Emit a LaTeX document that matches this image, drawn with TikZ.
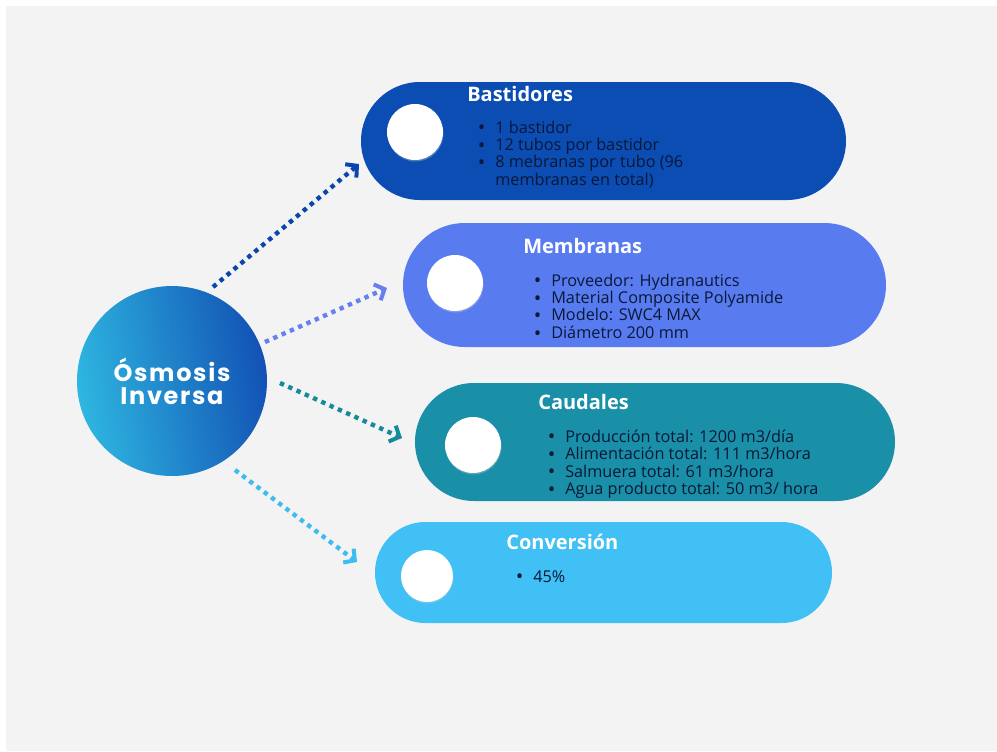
\documentclass[tikz,border=0pt]{standalone}
\usepackage{fontspec}
\setmainfont{Open Sans}
\newfontfamily\osmfont[LetterSpace=7]{Poppins}
\usetikzlibrary{arrows.meta}
\definecolor{bgpanel}{HTML}{F3F3F3}
\definecolor{cBast}{HTML}{0B4DB3}
\definecolor{cMemb}{HTML}{587CF0}
\definecolor{cCaud}{HTML}{1A8FA8}
\definecolor{cConv}{HTML}{40C0F5}
\definecolor{aBast}{HTML}{0A45AD}
\definecolor{aMemb}{HTML}{6680F0}
\definecolor{aCaud}{HTML}{17899C}
\definecolor{aConv}{HTML}{3FBCEF}
\definecolor{bodytxt}{HTML}{0A1838}
\definecolor{osmL}{HTML}{2EB6E0}
\definecolor{osmR}{HTML}{1252B5}
\newcommand\mybul{\makebox[13.5pt][l]{\hspace{0.5pt}\raisebox{-1.2pt}{\fontsize{15}{0}\selectfont\textbullet}}}
\newcommand\bitem[1]{\mybul#1}
\begin{document}
\begin{tikzpicture}[x=0.75pt,y=-0.75pt,
  pill/.style={rectangle, draw=none, inner sep=0pt},
  dotcircle/.style={circle, fill=white, draw=none, inner sep=0pt, minimum size=42pt},
  shadowc/.style={circle, fill=black!20, opacity=0.35, draw=none, inner sep=0pt, minimum size=42pt},
  titletext/.style={anchor=base west, inner sep=0pt, text=white, font=\bfseries\fontsize{15}{17}\selectfont},
  bodytext/.style={anchor=base west, inner sep=0pt, text=bodytxt, font=\fontsize{12.2}{12.75}\selectfont},
  dotarrow/.style={line width=3.3pt, dash pattern=on 3.3pt off 3.5pt,
    -{Straight Barb[length=6pt,width=13pt,line width=3pt]}}
]
\useasboundingbox (0,0) rectangle (997,751);
\fill[white] (0,0) rectangle (997,751);
\fill[bgpanel] (6,6) rectangle (997,751);

% pills
\node[pill, fill=cBast, minimum width=363.75pt, minimum height=88.5pt, rounded corners=44.2pt] (bast) at (603.5,141) {};
\node[pill, fill=cMemb, minimum width=362.25pt, minimum height=93pt, rounded corners=46.4pt] (memb) at (644.5,285) {};
\node[pill, fill=cCaud, minimum width=360pt, minimum height=88.5pt, rounded corners=44.2pt] (caud) at (655,442) {};
\node[pill, fill=cConv, minimum width=342.75pt, minimum height=75.75pt, rounded corners=37.8pt] (conv) at (603.5,572.5) {};

% white circles
\node[shadowc] (s1) at (415.5,133.5) {};
\node[dotcircle] (c1) at (415,132) {};
\node[shadowc] (s2) at (455.5,284.5) {};
\node[dotcircle] (c2) at (455,283) {};
\node[shadowc] (s3) at (473.5,446.5) {};
\node[dotcircle] (c3) at (473,445) {};
\node[shadowc, minimum size=39pt] (s4) at (427.5,577.5) {};
\node[dotcircle, minimum size=39pt] (c4) at (427,576) {};

% titles
\node[titletext] (t1) at (467,101) {Bastidores};
\node[titletext] (t2) at (523,253) {Membranas};
\node[titletext] (t3) at (538,409) {Caudales};
\node[titletext] (t4) at (506,549) {Conversión};

% bodies
\node[bodytext] (b1) at (477,133) {\begin{tabular}[t]{@{}l@{}}
\bitem{1 bastidor}\\
\bitem{12 tubos por bastidor}\\
\bitem{8 mebranas por tubo (96}\\
\hspace{13.5pt}membranas en total)
\end{tabular}};
\node[bodytext] (b2) at (533,286) {\begin{tabular}[t]{@{}l@{}}
\bitem{Proveedor: Hydranautics}\\
\bitem{Material Composite Polyamide}\\
\bitem{Modelo: SWC4 MAX}\\
\bitem{Diámetro 200 mm}
\end{tabular}};
\node[bodytext] (b3) at (547,442) {\begin{tabular}[t]{@{}l@{}}
\bitem{Producción total: 1200 m3/día}\\
\bitem{Alimentación total: 111 m3/hora}\\
\bitem{Salmuera total: 61 m3/hora}\\
\bitem{Agua producto total: 50 m3/ hora}
\end{tabular}};
\node[bodytext] (b4) at (515,582) {\begin{tabular}[t]{@{}l@{}}
\bitem{45\%}
\end{tabular}};

% main circle
\node[circle, draw=none, minimum size=142.5pt, inner sep=0pt,
  left color=osmL, right color=osmR, shading angle=100,
  text=white, align=center, font=\osmfont\bfseries\fontsize{18}{17.25}\selectfont] (osm) at (172,381) {Ósmosis\\Inversa};

% connector end points
\coordinate (a1s) at (213,287);
\coordinate (a1e) at (359,164);
\coordinate (a2s) at (265,342);
\coordinate (a2e) at (387,288);
\coordinate (a3s) at (280,383);
\coordinate (a3e) at (402,438);
\coordinate (a4s) at (235,470);
\coordinate (a4e) at (357,562);

\draw[dotarrow, aBast] (a1s) -- (a1e);
\draw[dotarrow, aMemb] (a2s) -- (a2e);
\draw[dotarrow, aCaud] (a3s) -- (a3e);
\draw[dotarrow, aConv] (a4s) -- (a4e);
\end{tikzpicture}
\end{document}
